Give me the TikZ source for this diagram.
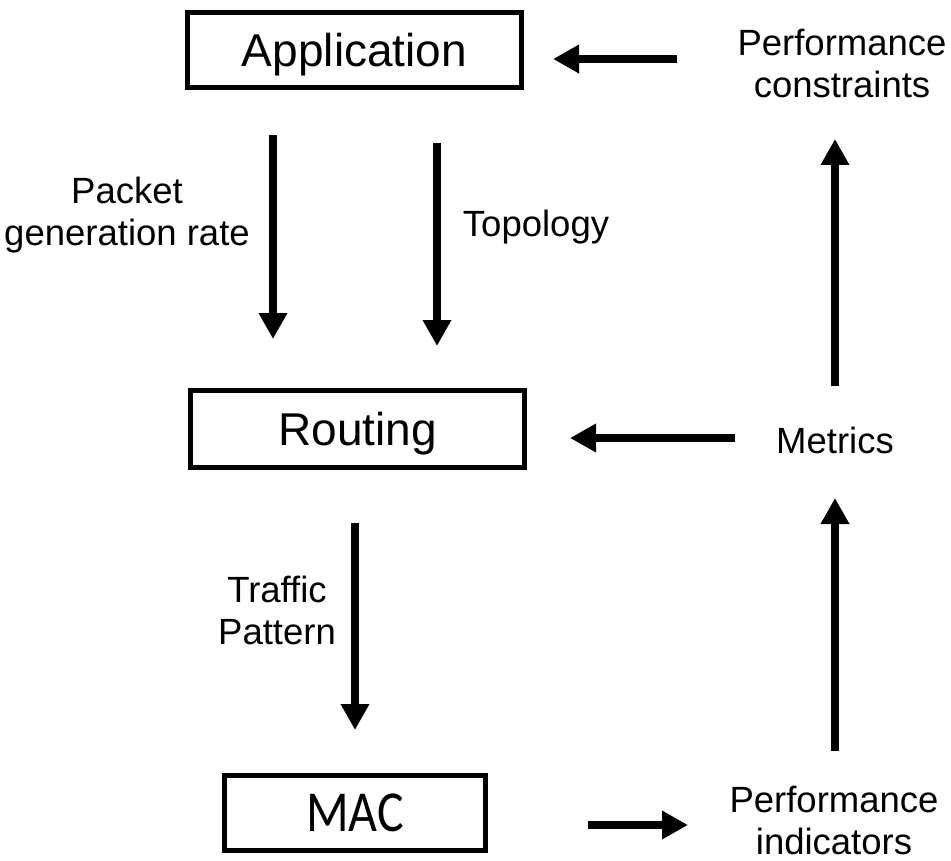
\documentclass[tikz,border=0pt]{standalone}
\usepackage{fontspec}
\setmainfont{Liberation Sans}
\newfontfamily\macfont[FakeStretch=0.86]{Carlito}
\usetikzlibrary{arrows.meta}
\begin{document}
\begin{tikzpicture}[x=1pt,y=-1pt,
  layer/.style={draw, line width=5pt, minimum width=#1, minimum height=75pt,
    inner sep=0pt, font=\fontsize{46}{55}\selectfont, text height=33pt, text depth=0pt},
  lbl/.style={align=center, inner sep=0pt, font=\fontsize{36.5}{42}\selectfont},
  flow/.style={line width=8pt, -{Triangle[length=26pt,width=27pt]}}
]
\fill[white] (0,0) rectangle (951,861);
\useasboundingbox (0,0) rectangle (951,861);

% protocol layers
\node[layer=334pt] (app) at (354.5,50) {Application};
\node[layer=334pt, minimum height=77pt] (rout) at (357.5,429) {Routing};
\node[layer=261pt, font=\macfont\fontsize{58}{66}\selectfont, text height=37pt] (mac) at (355,813) {MAC};

% side labels
\node[lbl] (pcons) at (842,63) {Performance\\constraints};
\node[lbl] (pgr) at (127,215) {Packet\\generation rate};
\node[lbl] (topo) at (536,227) {Topology};
\node[lbl] (metr) at (835,440) {Metrics};
\node[lbl] (traf) at (277,610) {Traffic\\Pattern};
\node[lbl] (pind) at (834,820) {Performance\\indicators};

% arrow end points
\coordinate (a1s) at (677,59);  \coordinate (a1e) at (553,59);
\coordinate (a2s) at (273,135); \coordinate (a2e) at (273,339);
\coordinate (a3s) at (437,143); \coordinate (a3e) at (437,346);
\coordinate (a4s) at (735,438); \coordinate (a4e) at (570,438);
\coordinate (a5s) at (835,751); \coordinate (a5e) at (835,498);
\coordinate (a6s) at (835,386); \coordinate (a6e) at (835,139);
\coordinate (a7s) at (355,523); \coordinate (a7e) at (355,730);
\coordinate (a8s) at (588,825); \coordinate (a8e) at (688,825);

\draw[flow] (a1s) -- (a1e);
\draw[flow] (a2s) -- (a2e);
\draw[flow] (a3s) -- (a3e);
\draw[flow] (a4s) -- (a4e);
\draw[flow] (a5s) -- (a5e);
\draw[flow] (a6s) -- (a6e);
\draw[flow] (a7s) -- (a7e);
\draw[flow] (a8s) -- (a8e);
\end{tikzpicture}
\end{document}
